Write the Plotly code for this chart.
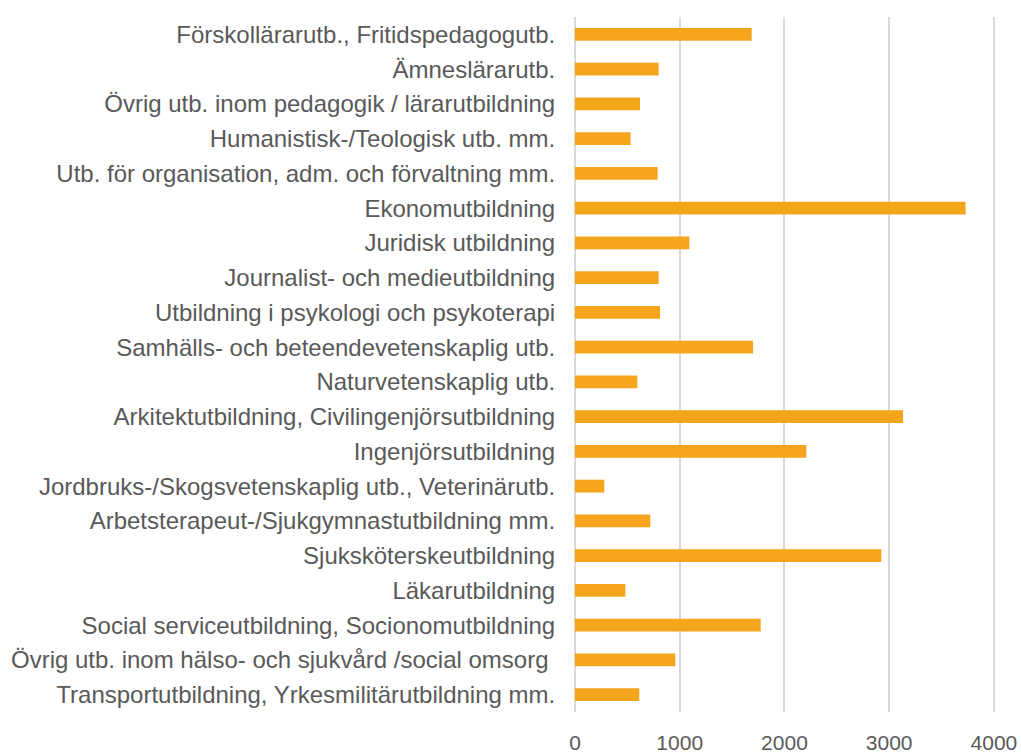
import plotly.graph_objects as go

categories = [
    "Förskollärarutb., Fritidspedagogutb.",
    "Ämneslärarutb.",
    "Övrig utb. inom pedagogik / lärarutbildning",
    "Humanistisk-/Teologisk utb. mm.",
    "Utb. för organisation, adm. och förvaltning mm.",
    "Ekonomutbildning",
    "Juridisk utbildning",
    "Journalist- och medieutbildning",
    "Utbildning i psykologi och psykoterapi",
    "Samhälls- och beteendevetenskaplig utb.",
    "Naturvetenskaplig utb.",
    "Arkitektutbildning, Civilingenjörsutbildning",
    "Ingenjörsutbildning",
    "Jordbruks-/Skogsvetenskaplig utb., Veterinärutb.",
    "Arbetsterapeut-/Sjukgymnastutbildning mm.",
    "Sjuksköterskeutbildning",
    "Läkarutbildning",
    "Social serviceutbildning, Socionomutbildning",
    "Övrig utb. inom hälso- och sjukvård /social omsorg ",
    "Transportutbildning, Yrkesmilitärutbildning mm.",
]
values = [1687, 799, 621, 531, 789, 3730, 1092, 799, 812, 1700,
          595, 3132, 2209, 280, 719, 2925, 481, 1773, 958, 614]
x_ticks = [0, 1000, 2000, 3000, 4000]

fig = go.Figure(go.Bar(
    y=categories, x=values, orientation="h",
    marker=dict(color="#F5A51C", line=dict(width=0)),
    width=0.37,
))

fig.update_layout(
    width=1021, height=753,
    margin=dict(l=575, r=25, t=17, b=41, autoexpand=False),
    plot_bgcolor="white", paper_bgcolor="white",
    showlegend=False,
    font=dict(family="Liberation Sans, Arial, sans-serif", color="#595959"),
)
fig.update_xaxes(
    range=[0, 4020], tickvals=x_ticks, ticktext=[str(v) for v in x_ticks],
    showgrid=True, gridcolor="#D9D9D9", gridwidth=1.6,
    zeroline=True, zerolinecolor="#D9D9D9", zerolinewidth=1.6,
    showline=False, ticks="outside", ticklen=12, tickcolor="rgba(0,0,0,0)",
    tickfont=dict(size=21, color="#595959"), automargin=False,
)
fig.update_yaxes(
    autorange="reversed", showgrid=False, showline=False, zeroline=False,
    ticks="outside", ticklen=14, tickcolor="rgba(0,0,0,0)",
    tickfont=dict(size=24, color="#595959"), automargin=False,
)

fig.write_html(
    "out.html",
    config={"displayModeBar": False},
    post_script="document.body.style.margin='0';document.body.style.overflow='hidden';",
)
